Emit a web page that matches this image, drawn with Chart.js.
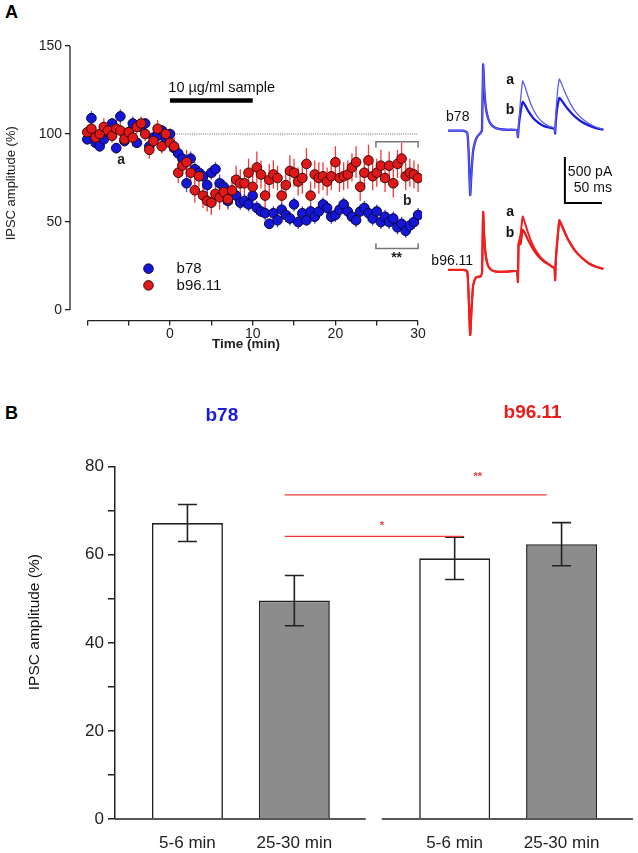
<!DOCTYPE html>
<html><head><meta charset="utf-8">
<script src="https://cdn.jsdelivr.net/npm/chart.js@4.4.1/dist/chart.umd.min.js"></script>
<style>
html,body{margin:0;padding:0;background:#fff;width:638px;height:853px;overflow:hidden;font-family:"Liberation Sans",Arial,sans-serif;}
.box{position:absolute;}
.lbl{position:absolute;font-weight:bold;font-size:18px;color:#000;line-height:18px;}
</style></head><body>
<div class="lbl" style="left:5px;top:3px">A</div>
<div class="lbl" style="left:5px;top:404px">B</div>
<div class="box" style="left:0;top:0;width:430px;height:352px"><canvas id="cA"></canvas></div>
<div class="box" style="left:430px;top:50px;width:208px;height:300px"><canvas id="cT"></canvas></div>
<div class="box" style="left:0;top:380px;width:638px;height:473px"><canvas id="cB"></canvas></div>
<script>
// ---------- Panel A data: IPSC amplitude (%) vs time (min) ----------
const timeMin = [-10,-9.5,-9,-8.5,-8,-7.5,-7,-6.5,-6,-5.5,-5,-4.5,-4,-3.5,-3,-2.5,-2,-1.5,-1,-0.5,
  0,0.5,1,1.5,2,2.5,3,3.5,4,4.5,5,5.5,6,6.5,7,7.5,8,8.5,9,9.5,
  10,10.5,11,11.5,12,12.5,13,13.5,14,14.5,15,15.5,16,16.5,17,17.5,18,18.5,19,19.5,
  20,20.5,21,21.5,22,22.5,23,23.5,24,24.5,25,25.5,26,26.5,27,27.5,28,28.5,29,29.5,30];
const b78Amp = [97,109,95,93,97,101,106,92,110,96,101,106,95,104,106,93,98,99,102,97,
  100,92,89,86,72,86,80,78,76,71,78,80,72,70,62,66,65,61,62,60,
  65,58,56,55,49,55,51,57,54,52,60,50,55,51,56,53,56,60,58,53,
  54,57,60,56,53,51,56,58,55,52,56,50,53,50,52,47,49,45,48,50,54];
const b78Err = [3,4,3,3,4,3,3,3,4,3,3,4,3,3,3,3,4,3,3,3,
  3,4,4,4,5,4,4,4,4,5,4,4,5,4,4,4,4,4,4,4,
  4,4,3,4,3,4,4,4,4,4,4,4,4,3,4,4,4,4,4,4,
  4,4,4,4,4,4,4,4,4,4,4,4,4,4,4,4,4,4,4,4,4];
const b96Amp = [101,103,98,100,104,102,99,103,102,97,101,98,104,106,100,91,96,103,93,100,
  95,93,78,82,84,78,68,76,65,62,61,66,64,67,63,68,74,72,72,78,
  70,81,77,65,74,77,75,65,71,79,78,73,75,83,65,77,75,76,73,76,
  84,75,76,77,81,84,70,78,85,76,78,82,75,82,72,83,86,76,78,77,75];
const b96Err = [4,5,4,4,5,4,4,5,4,4,4,5,4,4,4,5,4,5,4,4,
  5,5,6,6,7,6,7,6,7,6,7,6,7,7,6,8,8,8,7,8,
  8,9,8,8,9,8,7,8,8,9,8,8,9,9,8,8,9,8,8,8,
  9,8,8,8,8,9,8,8,9,8,8,9,8,8,8,8,9,8,8,8,8];
const xTicksA = [-10,-5,0,5,10,15,20,25,30];
const xTickTextA = ['','','0','','10','','20','','30'];
const yTicksA = [0,50,100,150];

// ---------- Panel A inset traces (time ms, current pA) ----------
const traceMs = [0,10,20,26,28,30,32,34,37,40,44,46,47.5,49,51,54,58,63,70,80,
  93,94.5,95.5,98,101,104,108,112,116,120,125,130,136,142,144,144.8,145.6,147.5,150.5,153,
  157,162,167,172,180,190,200,210];
const b78TraceA = [0,0,0,-20,-250,-700,-420,-220,-110,-60,-25,10,720,460,260,140,70,35,18,10,
  6,-70,60,330,540,480,380,290,220,165,115,80,50,35,30,-20,150,380,562,520,
  440,350,270,210,140,80,40,15];
const b78TraceB = [0,0,0,-20,-250,-700,-420,-220,-110,-60,-25,10,720,460,260,140,70,35,18,10,
  6,-70,40,200,312,280,220,170,130,100,70,50,35,25,22,-30,90,240,355,335,
  290,235,190,150,100,58,28,10];
const b96TraceA = [0,0,0,-15,-300,-707,-400,-170,-90,-75,-70,-30,630,360,160,50,5,-15,-20,-18,
  -15,-130,290,380,580,510,410,320,250,195,140,100,65,30,22,-110,90,300,543,505,
  430,340,270,210,140,75,35,12];
const b96TraceB = [0,0,0,-15,-300,-707,-400,-170,-90,-75,-70,-30,630,360,160,50,5,-15,-20,-18,
  -15,-130,290,280,435,400,330,270,215,170,125,90,60,28,20,-110,90,290,530,495,
  420,335,265,205,138,73,34,12];

// ---------- Panel B data ----------
const bLabels = ['5-6 min','25-30 min','5-6 min','25-30 min'];
const bPos = [1,2,3.5,4.5];
const bMean = [67.2,49.6,59.2,62.4];
const bSem = [4.2,5.7,4.8,4.9];
const bFill = ['#ffffff','#8c8c8c','#ffffff','#8c8c8c'];
const yTicksB = [0,10,20,30,40,50,60,70,80];

Chart.defaults.font.family = '"Liberation Sans", Arial, sans-serif';
Chart.defaults.color = '#222';

// ================= Panel A scatter =================
const panelAPlugin = {
  id: 'panelA',
  beforeDatasetsDraw(chart) {
    const {ctx, chartArea, scales: {x, y}} = chart;
    ctx.save();
    ctx.strokeStyle = '#222'; ctx.lineWidth = 1.3;
    ctx.beginPath();
    ctx.moveTo(chartArea.left, y.getPixelForValue(0));
    ctx.lineTo(chartArea.left, y.getPixelForValue(150));
    ctx.stroke();
    ctx.beginPath();
    ctx.moveTo(x.getPixelForValue(-10), chartArea.bottom);
    ctx.lineTo(x.getPixelForValue(30), chartArea.bottom);
    ctx.stroke();
    // dotted baseline
    ctx.strokeStyle = '#666'; ctx.lineWidth = 1; ctx.setLineDash([1, 1.2]);
    ctx.beginPath();
    ctx.moveTo(x.getPixelForValue(0), y.getPixelForValue(100));
    ctx.lineTo(x.getPixelForValue(30), y.getPixelForValue(100));
    ctx.stroke();
    ctx.setLineDash([]);
    // error bars
    chart.data.datasets.forEach((ds, di) => {
      const meta = chart.getDatasetMeta(di);
      ctx.strokeStyle = ds.errColor; ctx.lineWidth = 1.3;
      meta.data.forEach((pt, i) => {
        const v = ds.data[i].y, e = ds.errors[i];
        ctx.beginPath();
        ctx.moveTo(pt.x, y.getPixelForValue(v - e));
        ctx.lineTo(pt.x, y.getPixelForValue(v + e));
        ctx.stroke();
      });
    });
    ctx.restore();
  },
  afterDatasetsDraw(chart) {
    const {ctx, scales: {x, y}} = chart;
    ctx.save();
    // application bar
    ctx.strokeStyle = '#000'; ctx.lineWidth = 4.5;
    ctx.beginPath();
    ctx.moveTo(x.getPixelForValue(0), y.getPixelForValue(119));
    ctx.lineTo(x.getPixelForValue(10), y.getPixelForValue(119));
    ctx.stroke();
    ctx.fillStyle = '#111';
    ctx.font = '14.5px "Liberation Sans", Arial, sans-serif';
    ctx.textAlign = 'left'; ctx.textBaseline = 'middle';
    ctx.fillText('10 \u00b5g/ml sample', x.getPixelForValue(-0.2), y.getPixelForValue(126));
    // brackets
    ctx.strokeStyle = '#777'; ctx.lineWidth = 1.5;
    const bx0 = x.getPixelForValue(24.9), bx1 = x.getPixelForValue(30);
    ctx.beginPath();
    ctx.moveTo(bx0, y.getPixelForValue(92.4)); ctx.lineTo(bx0, y.getPixelForValue(95.6));
    ctx.lineTo(bx1, y.getPixelForValue(95.6)); ctx.lineTo(bx1, y.getPixelForValue(92.4));
    ctx.stroke();
    ctx.beginPath();
    ctx.moveTo(bx0, y.getPixelForValue(37.9)); ctx.lineTo(bx0, y.getPixelForValue(35));
    ctx.lineTo(bx1, y.getPixelForValue(35)); ctx.lineTo(bx1, y.getPixelForValue(37.9));
    ctx.stroke();
    ctx.textAlign = 'center';
    ctx.font = 'bold 14px "Liberation Sans", Arial, sans-serif';
    ctx.fillStyle = '#222';
    ctx.fillText('**', x.getPixelForValue(27.4), y.getPixelForValue(29.5));
    ctx.fillText('b', x.getPixelForValue(28.7), y.getPixelForValue(62));
    ctx.fillText('a', x.getPixelForValue(-5.9), y.getPixelForValue(85));
    // legend
    const legendRows = [{ds: 1, v: 23.5}, {ds: 0, v: 14}];
    ctx.font = '15px "Liberation Sans", Arial, sans-serif';
    ctx.textAlign = 'left';
    legendRows.forEach(r => {
      const ds = chart.data.datasets[r.ds];
      const py = y.getPixelForValue(r.v);
      const px = x.getPixelForValue(-2.6);
      ctx.beginPath(); ctx.arc(px, py, 4.8, 0, Math.PI * 2);
      ctx.fillStyle = ds.backgroundColor; ctx.fill();
      ctx.strokeStyle = ds.borderColor; ctx.lineWidth = 1; ctx.stroke();
      ctx.fillStyle = '#111';
      ctx.fillText(ds.label, x.getPixelForValue(0.8), py);
    });
    ctx.restore();
  }
};

new Chart(document.getElementById('cA'), {
  type: 'scatter',
  data: {datasets: [
    {label: 'b96.11', data: timeMin.map((t, i) => ({x: t, y: b96Amp[i]})), errors: b96Err,
     errColor: '#f03a3a', backgroundColor: '#e01818', borderColor: '#3a0808', borderWidth: 1, pointRadius: 4.8},
    {label: 'b78', data: timeMin.map((t, i) => ({x: t, y: b78Amp[i]})), errors: b78Err,
     errColor: '#4848ee', backgroundColor: '#1616d8', borderColor: '#08083a', borderWidth: 1, pointRadius: 4.8}
  ]},
  options: {
    responsive: true, maintainAspectRatio: false, animation: false,
    layout: {padding: {top: 46, right: 8, left: 0, bottom: 0}},
    plugins: {legend: {display: false}, tooltip: {enabled: false}},
    scales: {
      x: {type: 'linear', min: -12.09, max: 30.47,
        afterBuildTicks: s => { s.ticks = xTicksA.map(v => ({value: v})); },
        afterFit: s => { s.height = 31.4; },
        ticks: {callback: (v, i) => xTickTextA[i], font: {size: 14}, color: '#222', padding: 0, maxRotation: 0, autoSkip: false},
        grid: {display: true, drawOnChartArea: false, drawTicks: true, tickLength: 5, color: '#222', lineWidth: 1.3},
        border: {display: false},
        title: {display: true, text: 'Time (min)', font: {size: 13.5, weight: 'bold'}, color: '#222', padding: {top: 0, bottom: 0}}
      },
      y: {type: 'linear', min: -6, max: 150,
        afterBuildTicks: s => { s.ticks = yTicksA.map(v => ({value: v})); },
        afterFit: s => { s.width = 70; },
        ticks: {font: {size: 14}, color: '#222', padding: 3},
        grid: {display: true, drawOnChartArea: false, drawTicks: true, tickLength: 5, color: '#222', lineWidth: 1.3},
        border: {display: false},
        title: {display: true, text: 'IPSC amplitude (%)', font: {size: 13}, color: '#222', padding: {top: 4, bottom: 0}}
      }
    }
  },
  plugins: [panelAPlugin]
});

// ================= Panel A traces =================
const tracePlugin = {
  id: 'traces',
  afterDatasetsDraw(chart) {
    const {ctx, scales: {x, yb, yr}} = chart;
    ctx.save();
    ctx.strokeStyle = '#000'; ctx.lineWidth = 2;
    ctx.beginPath();
    ctx.moveTo(x.getPixelForValue(158), yb.getPixelForValue(-286));
    ctx.lineTo(x.getPixelForValue(158), yb.getPixelForValue(-786));
    ctx.lineTo(x.getPixelForValue(208), yb.getPixelForValue(-786));
    ctx.stroke();
    ctx.fillStyle = '#111';
    ctx.font = '14px "Liberation Sans", Arial, sans-serif';
    ctx.textBaseline = 'middle'; ctx.textAlign = 'left';
    ctx.fillText('500 pA', x.getPixelForValue(162), yb.getPixelForValue(-447));
    ctx.fillText('50 ms', x.getPixelForValue(170), yb.getPixelForValue(-625));
    ctx.textAlign = 'right';
    ctx.fillText('b78', x.getPixelForValue(29), yb.getPixelForValue(150));
    ctx.fillText('b96.11', x.getPixelForValue(34), yr.getPixelForValue(95));
    ctx.textAlign = 'center';
    ctx.font = 'bold 14px "Liberation Sans", Arial, sans-serif';
    ctx.fillText('a', x.getPixelForValue(84), yb.getPixelForValue(545));
    ctx.fillText('b', x.getPixelForValue(84), yb.getPixelForValue(225));
    ctx.fillText('a', x.getPixelForValue(84), yr.getPixelForValue(630));
    ctx.fillText('b', x.getPixelForValue(84), yr.getPixelForValue(395));
    ctx.restore();
  }
};
new Chart(document.getElementById('cT'), {
  type: 'line',
  data: {datasets: [
    {label: 'b78 a', data: traceMs.map((t, i) => ({x: t, y: b78TraceA[i]})), yAxisID: 'yb', borderColor: '#5c5cf0', borderWidth: 1.3},
    {label: 'b78 b', data: traceMs.map((t, i) => ({x: t, y: b78TraceB[i]})), yAxisID: 'yb', borderColor: '#1c1ce0', borderWidth: 2.3},
    {label: 'b96.11 a', data: traceMs.map((t, i) => ({x: t, y: b96TraceA[i]})), yAxisID: 'yr', borderColor: '#f02020', borderWidth: 2},
    {label: 'b96.11 b', data: traceMs.map((t, i) => ({x: t, y: b96TraceB[i]})), yAxisID: 'yr', borderColor: '#ee1414', borderWidth: 2.2}
  ]},
  options: {
    responsive: true, maintainAspectRatio: false, animation: false,
    layout: {padding: 0},
    elements: {point: {radius: 0}, line: {tension: 0.15, fill: false}},
    plugins: {legend: {display: false}, tooltip: {enabled: false}},
    scales: {
      x: {type: 'linear', display: false, min: -24.3, max: 256.8},
      yb: {type: 'linear', display: false, min: -2384, max: 877},
      yr: {type: 'linear', display: false, min: -870, max: 2391}
    }
  },
  plugins: [tracePlugin]
});

// ================= Panel B bars =================
const panelBPlugin = {
  id: 'panelB',
  afterDatasetsDraw(chart) {
    const {ctx, chartArea, scales: {x, y}} = chart;
    ctx.save();
    // broken x axis
    ctx.strokeStyle = '#222'; ctx.lineWidth = 1.5;
    const y0 = y.getPixelForValue(0);
    ctx.beginPath();
    ctx.moveTo(chartArea.left, y0); ctx.lineTo(x.getPixelForValue(2.668), y0);
    ctx.moveTo(x.getPixelForValue(2.818), y0); ctx.lineTo(chartArea.right, y0);
    ctx.stroke();
    // error bars
    ctx.lineWidth = 1.6; ctx.strokeStyle = '#222';
    bPos.forEach((p, i) => {
      const px = x.getPixelForValue(p);
      const yt = y.getPixelForValue(bMean[i] + bSem[i]), yl = y.getPixelForValue(bMean[i] - bSem[i]);
      ctx.beginPath();
      ctx.moveTo(px, yt); ctx.lineTo(px, yl);
      ctx.moveTo(px - 9.5, yt); ctx.lineTo(px + 9.5, yt);
      ctx.moveTo(px - 9.5, yl); ctx.lineTo(px + 9.5, yl);
      ctx.stroke();
    });
    // significance lines
    ctx.strokeStyle = '#ee3a3a'; ctx.lineWidth = 1.2;
    ctx.beginPath();
    ctx.moveTo(x.getPixelForValue(1.91), y.getPixelForValue(73.6)); ctx.lineTo(x.getPixelForValue(4.36), y.getPixelForValue(73.6));
    ctx.moveTo(x.getPixelForValue(1.91), y.getPixelForValue(64.2)); ctx.lineTo(x.getPixelForValue(3.575), y.getPixelForValue(64.2));
    ctx.stroke();
    ctx.fillStyle = '#ee3a3a';
    ctx.font = 'bold 11px "Liberation Sans", Arial, sans-serif';
    ctx.textAlign = 'center'; ctx.textBaseline = 'middle';
    ctx.fillText('**', x.getPixelForValue(3.715), y.getPixelForValue(77.6));
    ctx.fillText('*', x.getPixelForValue(2.818), y.getPixelForValue(66.6));
    // group titles
    ctx.font = 'bold 19px "Liberation Sans", Arial, sans-serif';
    ctx.fillStyle = '#1a1ae0';
    ctx.fillText('b78', x.getPixelForValue(1.322), y.getPixelForValue(91.6));
    ctx.fillStyle = '#ee1a1a';
    ctx.fillText('b96.11', x.getPixelForValue(4.229), y.getPixelForValue(92.3));
    // y title
    ctx.fillStyle = '#111';
    ctx.font = '15.5px "Liberation Sans", Arial, sans-serif';
    ctx.translate(chartArea.left - 80, y.getPixelForValue(44.7));
    ctx.rotate(-Math.PI / 2);
    ctx.fillText('IPSC amplitude (%)', 0, 0);
    ctx.restore();
  }
};
new Chart(document.getElementById('cB'), {
  type: 'bar',
  data: {datasets: [{
    label: 'IPSC amplitude', data: bPos.map((p, i) => ({x: p, y: bMean[i]})),
    backgroundColor: bFill, borderColor: '#222', borderWidth: 1.6,
    barPercentage: 0.664, categoryPercentage: 1
  }]},
  options: {
    responsive: true, maintainAspectRatio: false, animation: false,
    layout: {padding: {top: 86.7, right: 5, left: 0, bottom: 0}},
    plugins: {legend: {display: false}, tooltip: {enabled: false}},
    scales: {
      x: {type: 'linear', min: 0.3224, max: 5.1682, offset: false,
        afterBuildTicks: s => { s.ticks = bPos.map(v => ({value: v})); },
        afterFit: s => { s.height = 34; },
        ticks: {callback: (v, i) => bLabels[i], font: {size: 17}, color: '#222', padding: 14, maxRotation: 0, autoSkip: false},
        grid: {display: false, drawTicks: false, tickLength: 0, offset: false},
        border: {display: false}
      },
      y: {type: 'linear', min: 0, max: 80,
        afterBuildTicks: s => { s.ticks = yTicksB.map(v => ({value: v})); },
        afterFit: s => { s.width = 115; },
        ticks: {callback: v => (v % 20 === 0 ? v : ''), font: {size: 17}, color: '#222', padding: 4},
        grid: {display: true, drawOnChartArea: false, drawTicks: true, tickLength: 7, color: '#222', lineWidth: 1.5},
        border: {display: true, color: '#222', width: 1.5}
      }
    }
  },
  plugins: [panelBPlugin]
});
</script>
</body></html>
